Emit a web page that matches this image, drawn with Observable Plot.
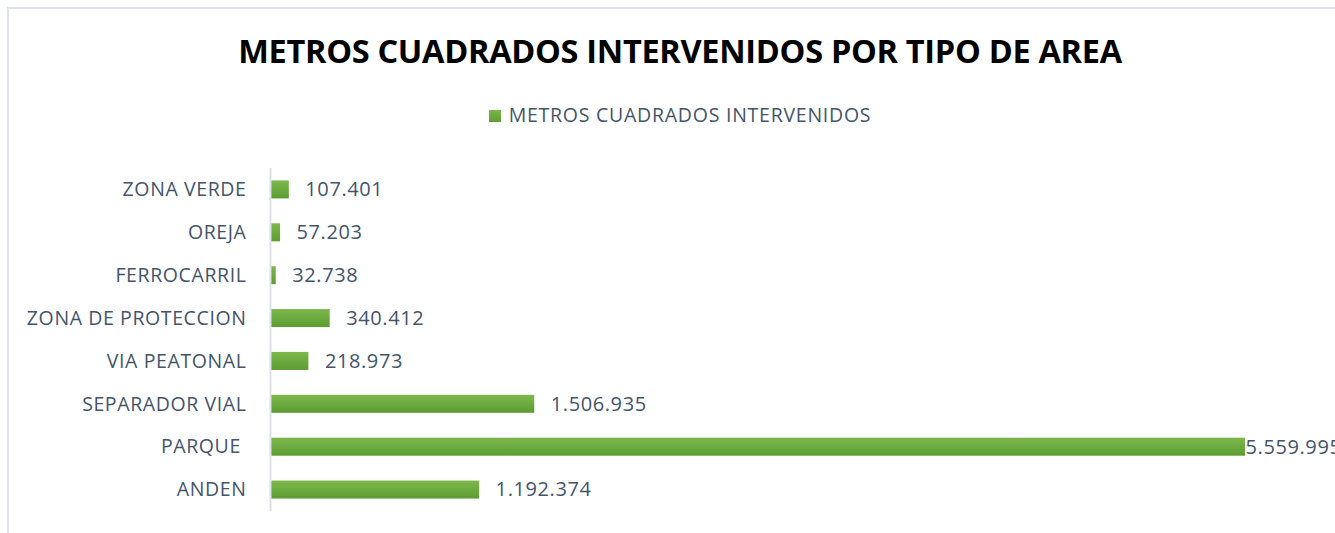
<!DOCTYPE html>
<html>
<head>
<meta charset="utf-8">
<script src="https://cdn.jsdelivr.net/npm/d3@7"></script>
<script src="https://cdn.jsdelivr.net/npm/@observablehq/plot@0.6"></script>
<style>
  html, body { margin: 0; padding: 0; background: #fff; overflow: hidden; width: 1335px; height: 533px; }
  #frame { position: absolute; left: 7px; top: 7px; width: 1400px; height: 600px; border-left: 2px solid #dfe3e8; border-top: 2px solid #dfe3e8; }
  #title { position: absolute; left: 7px; width: 1346px; top: 28px; text-align: center; font-family: "Open Sans", sans-serif; font-weight: 700; font-size: 32.5px; color: #000; letter-spacing: -0.3px; white-space: nowrap; }
  #legend { position: absolute; left: 7px; width: 1346px; top: 101px; text-align: center; font-family: "Open Sans", sans-serif; font-size: 19.5px; letter-spacing: 0.75px; color: #44546a; white-space: nowrap; }
  #legend .sw { display: inline-block; width: 12px; height: 12px; background: linear-gradient(#7ab648, #5f9e35); margin-right: 8px; vertical-align: 0px; }
  #chart { position: absolute; left: 0; top: 150px; width: 1400px; }
  #chart svg { max-width: none !important; }
  #chart text { white-space: pre; }
</style>
</head>
<body>
<div id="frame"></div>
<div id="title">METROS CUADRADOS INTERVENIDOS POR TIPO DE AREA</div>
<div id="legend"><span class="sw"></span>METROS CUADRADOS INTERVENIDOS</div>
<div id="chart"></div>
<script>
const categories = ["ZONA VERDE", "OREJA", "FERROCARRIL", "ZONA DE PROTECCION", "VIA PEATONAL", "SEPARADOR VIAL", "PARQUE ", "ANDEN"];
const values = [107401, 57203, 32738, 340412, 218973, 1506935, 5559995, 1192374];
const seriesName = "METROS CUADRADOS INTERVENIDOS";

const data = categories.map((c, i) => ({ cat: c, value: values[i] }));
const fmt = v => d3.format(",")(v).replace(/,/g, ".");
const maxV = d3.max(values);

const plot = Plot.plot({
  width: 1400,
  height: 373,
  marginLeft: 270,
  marginRight: 155,
  marginTop: 18,
  marginBottom: 12,
  style: { fontFamily: "Open Sans, sans-serif", fontSize: "19.5px", color: "#44546a", background: "transparent", maxWidth: "none" },
  x: { domain: [0, maxV], axis: null },
  y: { domain: categories, padding: 0.58, paddingOuter: 0.29, round: false, label: null },
  marks: [
    Plot.barX(data, { x: "value", y: "cat", fill: "url(#barGrad)" }),
    Plot.axisY({ tickSize: 0, tickPadding: 24, fill: "#44546a", fontSize: 19.5 }),
    Plot.ruleX([0], { stroke: "#dde1e6", strokeWidth: 2 }),
    Plot.text(data.filter(d => d.value !== maxV), { x: "value", y: "cat", text: d => fmt(d.value), textAnchor: "start", dx: 16, fill: "#44546a", fontSize: 20 }),
    Plot.text(data.filter(d => d.value === maxV), { x: "value", y: "cat", text: d => fmt(d.value), textAnchor: "start", dx: 0, fill: "#44546a", fontSize: 20 })
  ]
});

plot.querySelectorAll("text").forEach(t => t.style.letterSpacing = "0.6px");
const ns = "http://www.w3.org/2000/svg";
const defs = document.createElementNS(ns, "defs");
defs.innerHTML = '<linearGradient id="barGrad" x1="0" y1="0" x2="0" y2="1"><stop offset="0" stop-color="#7db84c"/><stop offset="1" stop-color="#5c9c32"/></linearGradient>';
plot.insertBefore(defs, plot.firstChild);
document.getElementById("chart").appendChild(plot);
</script>
</body>
</html>
